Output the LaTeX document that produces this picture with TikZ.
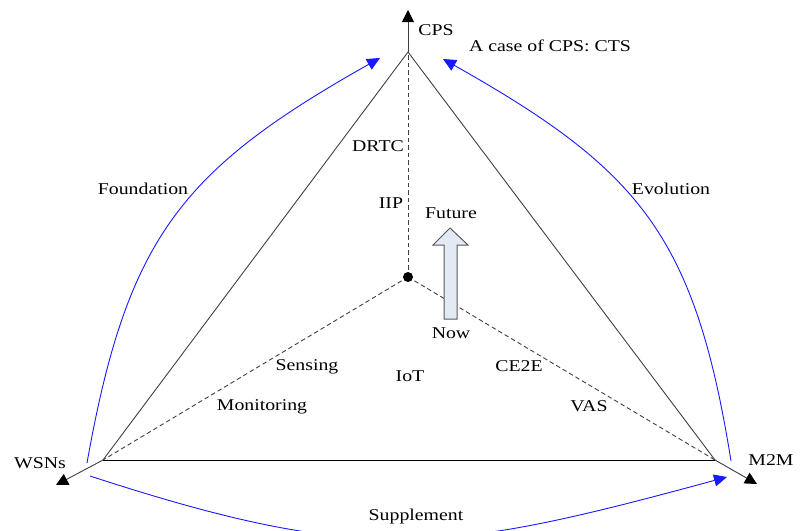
\documentclass[tikz,border=0pt]{standalone}
\usepackage{fontspec}
\setmainfont{Liberation Serif}[FakeStretch=1.2]
\usetikzlibrary{arrows.meta}
\definecolor{arrfill}{RGB}{228,234,245}
\begin{document}
\begin{tikzpicture}[x=1pt,y=-1pt,
  lbl/.style={font=\fontsize{16.5}{18}\selectfont, inner sep=0pt, text=black},
  side/.style={draw=black!75, line width=0.9pt},
  base/.style={draw=black, line width=1pt},
  dsh/.style={draw=black!75, line width=0.9pt, dash pattern=on 4.5pt off 3pt},
  ext/.style={draw=black!75, line width=0.9pt, -{Triangle[length=12pt,width=12pt,fill=black,color=black]}},
  arc/.style={draw=blue!90!white, line width=0.9pt, -{Triangle[length=13pt,width=12pt]}},
  blk/.style={draw=black!65, fill=arrfill, line width=1pt}]
\useasboundingbox (0,0) rectangle (800,530);
\begin{scope}
\clip (0,0) rectangle (800,530);
% vertices
\coordinate (T) at (408,52);
\coordinate (L) at (103,460);
\coordinate (R) at (715,460);
\coordinate (C) at (408,277);
\coordinate (Te) at (408,10);
\coordinate (Le) at (56,485);
\coordinate (Re) at (757,484);
% triangle
\draw[side] (L) -- (T) -- (R);
\draw[base] (L) -- (R);
% dashed spokes
\draw[dsh] (C) -- (T);
\draw[dsh] (C) -- (L);
\draw[dsh] (C) -- (R);
\fill[black] (C) circle (5pt);
% extension arrows
\draw[ext] (T) -- (Te);
\draw[ext] (L) -- (Le);
\draw[ext] (R) -- (Re);
% blue arcs
\coordinate (a1s) at (87,463);
\coordinate (a1e) at (380,58);
\coordinate (a2s) at (731,461);
\coordinate (a2e) at (443,59);
\coordinate (a3s) at (90,476);
\coordinate (a3e) at (727,477);
\draw[arc] (a1s) .. controls (127,238) and (181,170) .. (a1e);
\draw[arc] (a2s) .. controls (695,236) and (640,170) .. (a2e);
\draw[arc] (a3s) .. controls (366,566) and (447,553) .. (a3e);
% block arrow
\draw[blk] (444,319) -- (444,245) -- (433,245) -- (450,228) -- (468,245) -- (457,245) -- (457,319) -- cycle;
\end{scope}
% labels
\node[lbl] (cps) at (436,30) {CPS};
\node[lbl] (cts) at (550,46) {A case of CPS: CTS};
\node[lbl] (fnd) at (143,189) {Foundation};
\node[lbl] (evo) at (671,189) {Evolution};
\node[lbl] (drtc) at (378,146) {DRTC};
\node[lbl] (iip) at (391,203) {IIP};
\node[lbl] (fut) at (451,213) {Future};
\node[lbl] (now) at (451,333) {Now};
\node[lbl] (sen) at (307,367) {Sensing};
\node[lbl] (iot) at (410,376) {IoT};
\node[lbl] (ce2e) at (519,366) {CE2E};
\node[lbl] (mon) at (262,407) {Monitoring};
\node[lbl] (vas) at (589,406) {VAS};
\node[lbl] (wsn) at (40,463) {WSNs};
\node[lbl] (m2m) at (771,460) {M2M};
\node[lbl] (sup) at (416,517) {Supplement};
\end{tikzpicture}
\end{document}
